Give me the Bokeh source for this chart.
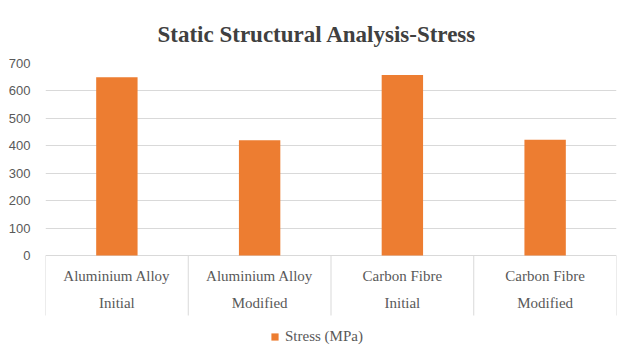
from bokeh.plotting import figure
from bokeh.models import (Range1d, FixedTicker, Legend, LegendItem,
                          ColumnDataSource)
from bokeh.core.properties import value
from bokeh.embed import file_html
from bokeh.resources import INLINE

# ---- data ----
materials = ["Aluminium Alloy", "Aluminium Alloy", "Carbon Fibre", "Carbon Fibre"]
states = ["Initial", "Modified", "Initial", "Modified"]
stress = [650, 420, 658, 422]
y_ticks = [0, 100, 200, 300, 400, 500, 600, 700]
series_name = "Stress (MPa)"
title_text = "Static Structural Analysis-Stress"

n = len(stress)
pos = [i + 0.5 for i in range(n)]
bounds = [float(i) for i in range(n + 1)]

GRID = "#D9D9D9"
TXT = "#595959"
BAR = "#ED7D31"

# layout (pixels)
VALUE_H = 192          # height in px of the 0..700 value band
BELOW_H = 91           # px of category/legend area kept inside the frame
u = y_ticks[-1] / VALUE_H   # data units per pixel

p = figure(width=619, height=346, output_backend="svg",
           toolbar_location=None,
           x_range=Range1d(0, n),
           y_range=Range1d(-BELOW_H * u, y_ticks[-1]),
           x_axis_location=None, title=title_text,
           min_border_left=45, min_border_right=3, min_border_top=63,
           min_border_bottom=0)
p.outline_line_color = None
p.background_fill_color = "white"
p.border_fill_color = "white"

p.title.text_font = "Liberation Serif"
p.title.text_font_style = "bold"
p.title.text_font_size = "23px"
p.title.text_color = "#404040"
p.title.align = "left"
p.title.offset = 112
p.title.standoff = 34

# y axis
p.yaxis.ticker = FixedTicker(ticks=y_ticks)
p.yaxis.axis_line_color = None
p.yaxis.major_tick_line_color = None
p.yaxis.minor_tick_line_color = None
p.yaxis.major_label_text_font = "Liberation Sans"
p.yaxis.major_label_text_font_size = "13px"
p.yaxis.major_label_text_color = TXT
p.yaxis.major_label_standoff = 9

p.ygrid.ticker = FixedTicker(ticks=y_ticks)
p.ygrid.grid_line_color = GRID
p.xgrid.visible = False

src = ColumnDataSource(dict(x=pos, stress=stress, mat=materials, st=states))
r = p.vbar(x="x", top="stress", width=0.29, source=src,
           fill_color=BAR, line_color=None)

# category separators
p.segment(x0=bounds, y0=[0] * len(bounds), x1=bounds,
          y1=[-60 * u] * len(bounds), line_color=GRID, line_width=1)

# two-line category labels
p.text(x="x", y=-20 * u, text="mat", source=src, text_align="center",
       text_baseline="middle", text_font=value("Liberation Serif"),
       text_font_size="15px", text_color=TXT)
p.text(x="x", y=-47 * u, text="st", source=src, text_align="center",
       text_baseline="middle", text_font=value("Liberation Serif"),
       text_font_size="15px", text_color=TXT)

legend = Legend(items=[LegendItem(label=series_name, renderers=[r])],
                orientation="horizontal", location=(225, 1),
                border_line_color=None, background_fill_alpha=0,
                glyph_width=9, glyph_height=9, label_standoff=6,
                label_height=16,
                padding=0, margin=0, spacing=0,
                label_text_font="Liberation Serif",
                label_text_font_size="15px", label_text_color=TXT)
p.add_layout(legend, "center")

html = file_html(p, INLINE)
open("out.html", "w").write(html)
